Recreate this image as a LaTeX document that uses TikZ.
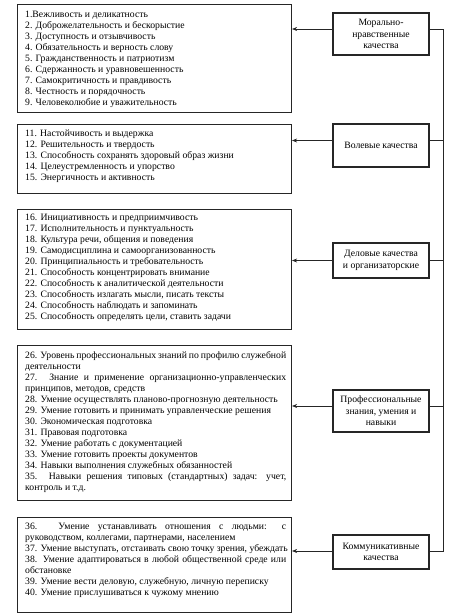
\documentclass[tikz,border=0pt]{standalone}
\usepackage{fontspec}
\setmainfont{Liberation Serif}
\usetikzlibrary{arrows.meta}
\newcommand{\jl}[1]{\makebox[261pt][s]{#1}}
\tikzset{
  bigbox/.style={draw=black!85, line width=1.1pt, fill=white, anchor=north west, minimum width=274pt, inner sep=0pt},
  listtext/.style={anchor=north west, inner sep=0pt, align=left, font=\fontsize{9.7}{11}\selectfont},
  lab/.style={draw=black!85, line width=1.1pt, fill=white, minimum width=96pt, inner sep=1pt, align=center, font=\fontsize{9.7}{11.5}\selectfont},
  conn/.style={line width=0.6pt, black!85},
  arr/.style={conn, -{Stealth[length=5pt,width=4pt]}}
}
\begin{document}
\begin{tikzpicture}[x=1pt,y=-1pt]
\useasboundingbox (0,0) rectangle (457,615);
% left boxes
\node[bigbox, minimum height=108pt] (b1) at (17,4) {};
\node[bigbox, minimum height=69pt] (b2) at (17,124) {};
\node[bigbox, minimum height=120pt] (b3) at (17,209) {};
\node[bigbox, minimum height=155pt] (b4) at (17,345) {};
\node[bigbox, minimum height=95pt] (b5) at (17,517) {};
% texts
\node[listtext] (t1) at (25,10.5) {1.Вежливость и деликатность\\
2. Доброжелательность и бескорыстие\\
3. Доступность и отзывчивость\\
4. Обязательность и верность слову\\
5. Гражданственность и патриотизм\\
6. Сдержанность и уравновешенность\\
7. Самокритичность и правдивость\\
8. Честность и порядочность\\
9. Человеколюбие и уважительность};
\node[listtext] (t2) at (25,130) {11. Настойчивость и выдержка\\
12. Решительность и твердость\\
13. Способность сохранять здоровый образ жизни\\
14. Целеустремленность и упорство\\
15. Энергичность и активность};
\node[listtext] (t3) at (25,214) {16. Инициативность и предприимчивость\\
17. Исполнительность и пунктуальность\\
18. Культура речи, общения и поведения\\
19. Самодисциплина и самоорганизованность\\
20. Принципиальность и требовательность\\
21. Способность концентрировать внимание\\
22. Способность к аналитической деятельности\\
23. Способность излагать мысли, писать тексты\\
24. Способность наблюдать и запоминать\\
25. Способность определять цели, ставить задачи};
\node[listtext] (t4) at (25,351) {\jl{26. Уровень профессиональных знаний по профилю служебной}\\
деятельности\\
\jl{27. Знание и применение организационно-управленческих}\\
принципов, методов, средств\\
28. Умение осуществлять планово-прогнозную деятельность\\
29. Умение готовить и принимать управленческие решения\\
30. Экономическая подготовка\\
31. Правовая подготовка\\
32. Умение работать с документацией\\
33. Умение готовить проекты документов\\
34. Навыки выполнения служебных обязанностей\\
\jl{35. Навыки решения типовых (стандартных) задач: учет,}\\
контроль и т.д.};
\node[listtext] (t5) at (25,523) {\jl{36. Умение устанавливать отношения с людьми: с}\\
руководством, коллегами, партнерами, населением\\
37. Умение выступать, отстаивать свою точку зрения, убеждать\\
\jl{38. Умение адаптироваться в любой общественной среде или}\\
обстановке\\
39. Умение вести деловую, служебную, личную переписку\\
40. Умение прислушиваться к чужому мнению};
% labels
\node[lab, minimum height=42pt] (l1) at (381,34) {Морально-\\нравственные\\качества};
\node[lab, minimum height=43pt] (l2) at (381,145.5) {Волевые качества};
\node[lab, minimum height=35pt] (l3) at (381,260.5) {Деловые качества\\и организаторские};
\node[lab, minimum height=42pt] (l4) at (381,411) {Профессиональные\\знания, умения и\\навыки};
\node[lab, minimum height=34pt] (l5) at (381,552) {Коммуникативные\\качества};
% spine
\coordinate (spT) at (443,29);
\coordinate (spB) at (443,551);
\draw[conn] ([yshift=5pt]l1.east) -- (spT) -- (spB) -- ([yshift=1pt]l5.east);
\draw[conn] ([yshift=5pt]l2.east) -- ([yshift=5pt]l2.east -| spT);
\draw[conn] (l3.east) -- (l3.east -| spT);
\draw[conn] ([yshift=5pt]l4.east) -- ([yshift=5pt]l4.east -| spT);
% arrows
\draw[arr] ([yshift=5pt]l1.west) -- ([yshift=5pt]l1.west -| b1.east);
\draw[arr] ([yshift=5pt]l2.west) -- ([yshift=5pt]l2.west -| b2.east);
\draw[arr] (l3.west) -- (l3.west -| b3.east);
\draw[arr] ([yshift=5pt]l4.west) -- ([yshift=5pt]l4.west -| b4.east);
\draw[arr] ([yshift=1pt]l5.west) -- ([yshift=1pt]l5.west -| b5.east);
\end{tikzpicture}
\end{document}
